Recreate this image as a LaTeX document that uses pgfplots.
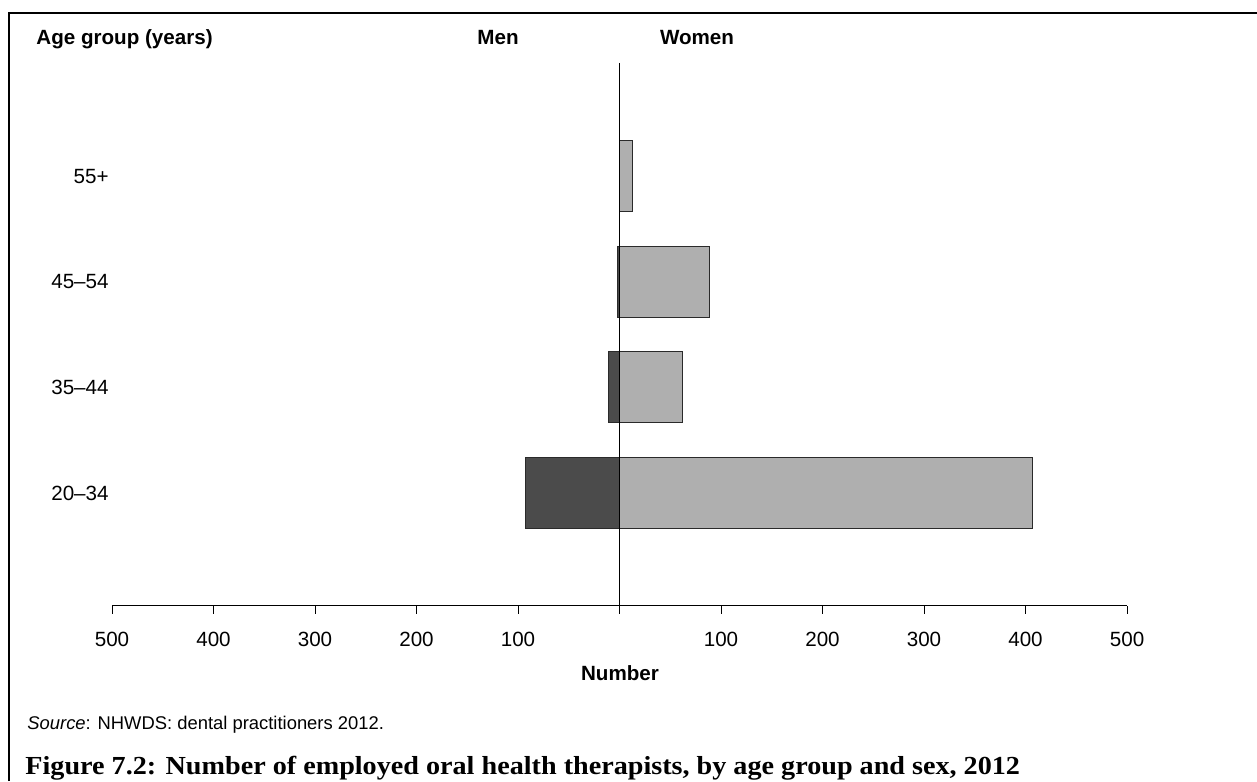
\documentclass[border=0pt]{standalone}
\usepackage{fontspec}
\setmainfont{Liberation Sans}
\newfontfamily\capfont{Liberation Serif}
\usepackage{pgfplots}
\pgfplotsset{compat=1.18}
\definecolor{mencol}{HTML}{4B4B4B}
\definecolor{womcol}{HTML}{AFAFAF}
\definecolor{edge}{HTML}{2A2A2A}
\begin{document}
\begin{tikzpicture}
\useasboundingbox (0,0) rectangle (628.5pt,390.5pt);
\draw[line width=1.2pt] (4.5pt,0) -- (4.5pt,384pt) -- (628.5pt,384pt);
\begin{axis}[
 at={(56pt,87.5pt)}, anchor=south west, scale only axis,
 width=507.5pt, height=271.5pt,
 xmin=-500, xmax=500, ymin=-1.07, ymax=4.07,
 axis x line*=bottom, axis y line*=left,
 y axis line style={draw=none},
 ytick style={draw=none},
 xtick={-500,-400,...,500},
 xticklabels={500,400,300,200,100,,100,200,300,400,500},
 ytick={0,1,2,3},
 yticklabels={20–34,35–44,45–54,55+},
 tick align=outside, major tick length=4pt,
 xtick style={black, line width=0.5pt},
 x axis line style={black, line width=0.5pt},
 ticklabel style={font=\fontsize{10.3}{12}\selectfont},
 /pgf/number format/assume math mode=true,
 xticklabel style={yshift=-5.5pt},
 yticklabel style={inner sep=0pt, xshift=2.5pt},
 xbar, bar width=35.5pt, bar shift=0pt,
 clip=false,
]
\addplot[fill=mencol, draw=edge, line width=0.5pt] coordinates {(-93,0) (-11,1) (-2,2)};
\addplot[fill=womcol, draw=edge, line width=0.5pt] coordinates {(407,0) (62,1) (89,2) (13,3)};
\draw[black, line width=0.6pt] (axis cs:0,4.07) -- (axis cs:0,-1.07);
\end{axis}
\node[anchor=base west, inner sep=0pt, font=\fontsize{10.3}{12}\selectfont\bfseries] at (18pt,368pt) {Age group (years)};
\node[anchor=base, inner sep=0pt, font=\fontsize{10.3}{12}\selectfont\bfseries] at (249pt,368pt) {Men};
\node[anchor=base, inner sep=0pt, font=\fontsize{10.3}{12}\selectfont\bfseries] at (348.5pt,368pt) {Women};
\node[anchor=base, inner sep=0pt, font=\fontsize{10.3}{12}\selectfont\bfseries] at (310pt,50pt) {Number};
\node[anchor=base west, inner sep=0pt, font=\fontsize{9.2}{11}\selectfont] at (13.5pt,25.5pt) {\textit{Source}: NHWDS: dental practitioners 2012.};
\node[anchor=base west, inner sep=0pt] at (12.5pt,3pt) {\scalebox{1.083}[1]{\capfont\bfseries\fontsize{13}{15}\selectfont Figure 7.2: Number of employed oral health therapists, by age group and sex, 2012}};
\end{tikzpicture}
\end{document}
